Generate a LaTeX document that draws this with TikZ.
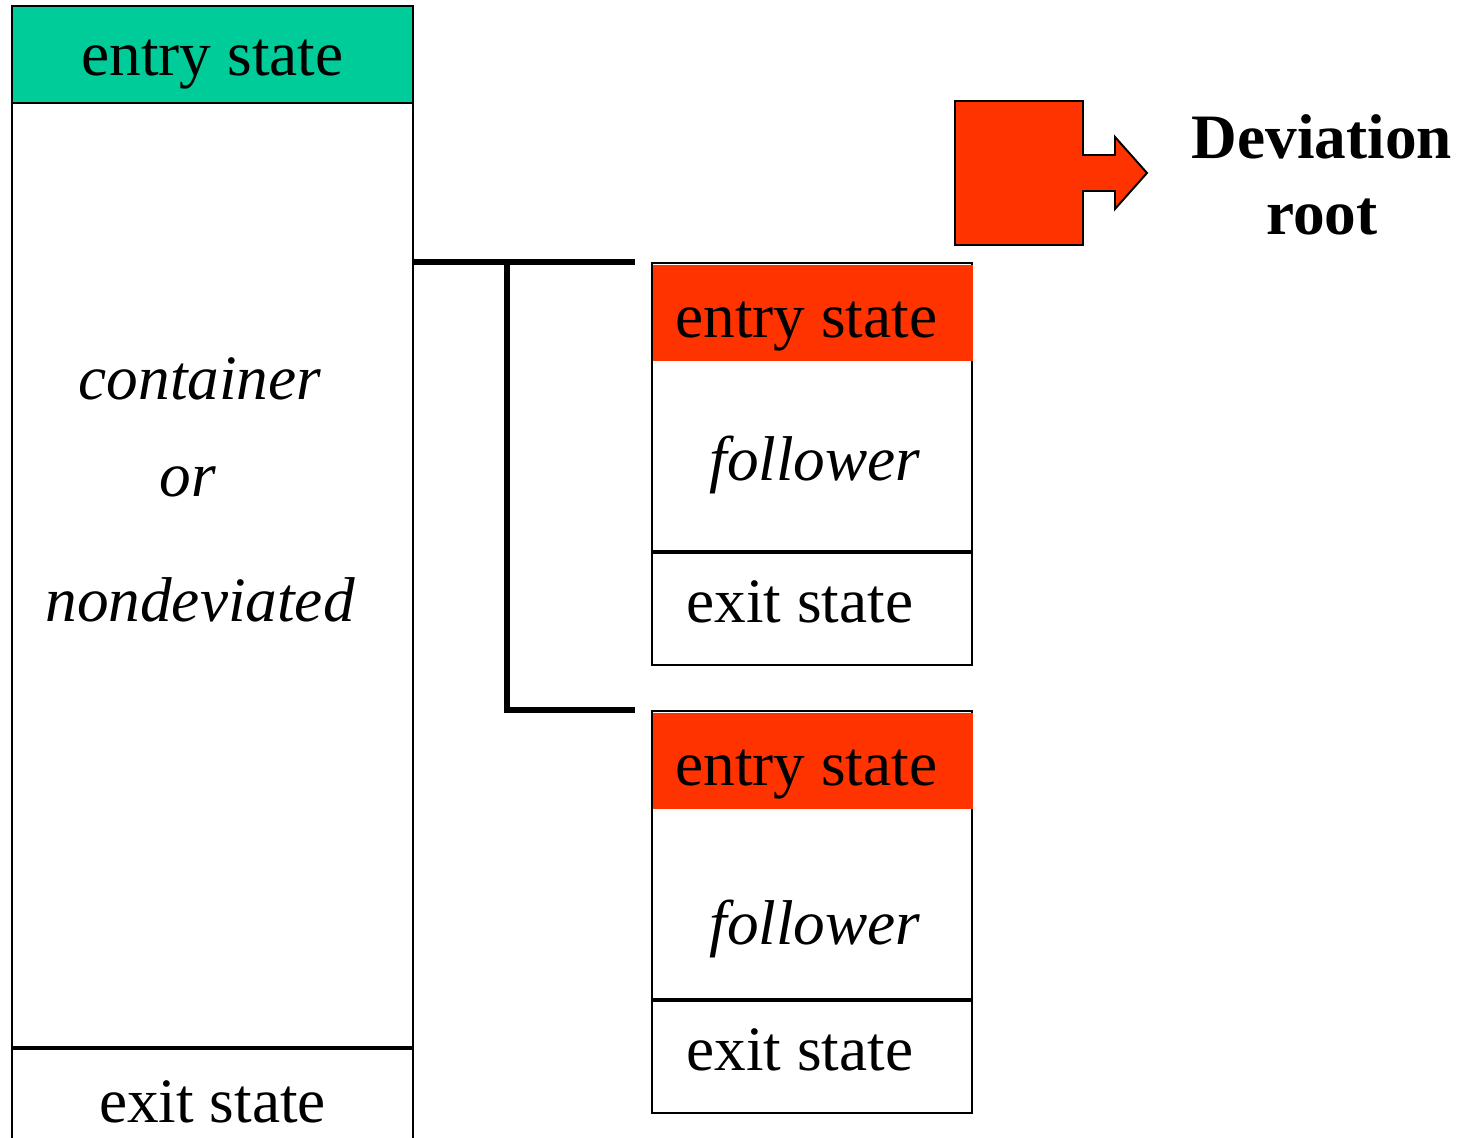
\documentclass[tikz,border=0pt]{standalone}
\usepackage{fontspec}
\setmainfont{Liberation Serif}
\usetikzlibrary{positioning}
\definecolor{entrygreen}{RGB}{0,204,153}
\definecolor{devred}{RGB}{255,51,0}

\begin{document}
\begin{tikzpicture}[
		font=\fontsize{36}{43}\selectfont,
		part/.style={
			rectangle,
			draw,
			line width=1.1pt,
			inner sep=0pt,
			anchor=north west,
			text depth=0pt
		},
		cpart/.style={
			part,
			minimum width=8.02cm
		},
		fpart/.style={
			part,
			minimum width=6.4cm
		},
		band/.style={
			rectangle,
			inner sep=0pt,
			anchor=north west,
			minimum width=6.4cm,
			minimum height=1.92cm,
			text height=0.96cm,
			text depth=0pt,
			fill=devred
		},
		lbl/.style={
			inner sep=0pt,
			align=center
		},
		bar/.style={
			line width=3.4pt
		}
		]
		\useasboundingbox (0,0) rectangle (29.3,-22.76);
		
		% Container
		\node[cpart, fill=entrygreen, minimum height=1.94cm, text height=0.86cm] (cent) at (0.22,-0.1)
		{entry state};
		
		\node[cpart, minimum height=18.88cm] (cbody) at (0.22,-2.04) {};
		
		\node[cpart, minimum height=2.3cm, text height=0.66cm] (cexit) at (cbody.south west)
		{exit state};
		
		\node[lbl, font=\fontsize{36}{43}\selectfont\itshape] (ctext) at (4.0,-9.8)
		{container\\[0.42cm]
			\mbox{or\hspace{0.48cm}}\\[1.0cm]
			nondeviated};
		
		% First follower
		\node[fpart, minimum height=5.76cm] (f1body) at (13.02,-5.24) {};
		
		\node[band] (f1ent) at (13.06,-5.3)
		{entry state\hspace*{0.28cm}};
		
		\node[fpart, minimum height=2.24cm, text height=0.56cm] (f1exit) at (f1body.south west)
		{exit state\hspace*{0.48cm}};
		
		\node[lbl, font=\fontsize{36}{43}\selectfont\itshape] (f1txt) at (16.3,-9.3)
		{follower};
		
		% Second follower
		\node[fpart, minimum height=5.76cm] (f2body) at (13.02,-14.2) {};
		
		\node[band] (f2ent) at (13.06,-14.26)
		{entry state\hspace*{0.28cm}};
		
		\node[fpart, minimum height=2.24cm, text height=0.56cm] (f2exit) at (f2body.south west)
		{exit state\hspace*{0.48cm}};
		
		\node[lbl, font=\fontsize{36}{43}\selectfont\itshape] (f2txt) at (16.3,-18.58)
		{follower};
		
		% Bracket
		\coordinate (j1) at ([xshift=-0.32cm]f1body.north west);
		\coordinate (j2) at ([xshift=-0.32cm]f2body.north west);
		\coordinate (knee) at (10.14,-5.24);
		
		\draw[bar] (cbody.east |- j1) -- (j1);
		\draw[bar] (knee) -- (knee |- j2) -- (j2);
		
		% Deviation root
		\draw[line width=1.1pt, fill=devred]
		(19.1,-2.02) -- (21.66,-2.02) -- (21.66,-3.1) -- (22.3,-3.1)
		-- (22.3,-2.74) -- (22.94,-3.46) -- (22.3,-4.18) -- (22.3,-3.82)
		-- (21.66,-3.82) -- (21.66,-4.9) -- (19.1,-4.9) -- cycle;
		
		\node[lbl, font=\fontsize{36}{43}\selectfont\bfseries] (devtxt) at (26.44,-3.5)
		{Deviation\\root};
		
	\end{tikzpicture}
\end{document}
